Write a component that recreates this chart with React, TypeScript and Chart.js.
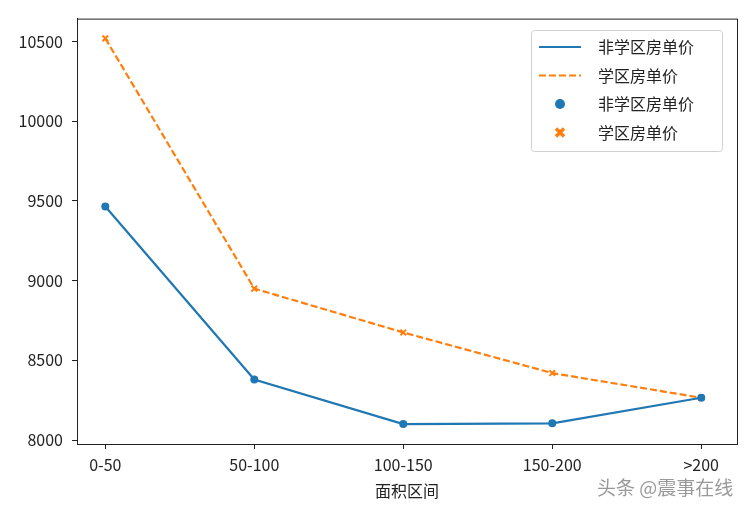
import React, { useEffect, useRef } from "react";
import { Chart, registerables } from "chart.js";

Chart.register(...registerables);

const categories = ["0-50", "50-100", "100-150", "150-200", ">200"];
const nonSchoolPrice = [9465, 8380, 8100, 8105, 8265];
const schoolPrice = [10520, 8950, 8675, 8420, 8265];
const yTicks = [8000, 8500, 9000, 9500, 10000, 10500];
const legendLabels = ["非学区房单价", "学区房单价", "非学区房单价", "学区房单价"];
const xTitle = "面积区间";
const watermark = "头条 @震事在线";

const BLUE = "#1f77b4";
const ORANGE = "#ff7f0e";
const FONT = "'Noto Sans CJK SC', 'DejaVu Sans', sans-serif";

export default function App() {
  const ref = useRef<HTMLCanvasElement | null>(null);
  useEffect(() => {
    if (!ref.current) return;
    const framePlugin = {
      id: "frame",
      afterDraw(chart: any) {
        const ctx = chart.ctx;
        const a = chart.chartArea;
        ctx.save();
        ctx.strokeStyle = "#222";
        ctx.lineWidth = 1;
        ctx.strokeRect(a.left + 0.5, a.top + 0.5, a.right - a.left, a.bottom - a.top);
        // x title
        ctx.fillStyle = "#222";
        ctx.font = "16px " + FONT;
        ctx.textAlign = "center";
        ctx.textBaseline = "middle";
        ctx.fillText(xTitle, (a.left + a.right) / 2, 491);
        // watermark
        ctx.fillStyle = "rgba(110,110,110,0.7)";
        ctx.font = "19px " + FONT;
        ctx.textAlign = "left";
        ctx.fillText(watermark, 597, 488);
        // legend
        const lx = 531, ly = 30, lw = 191, lh = 121;
        ctx.fillStyle = "rgba(255,255,255,0.85)";
        ctx.strokeStyle = "#d0d0d0";
        ctx.lineWidth = 1;
        ctx.beginPath();
        (ctx as any).roundRect(lx + 0.5, ly + 0.5, lw, lh, 3);
        ctx.fill();
        ctx.stroke();
        const rows = [47, 75.5, 104, 132.5];
        ctx.font = "16px " + FONT;
        ctx.textAlign = "left";
        ctx.textBaseline = "middle";
        rows.forEach((y, i) => {
          ctx.save();
          if (i === 0) {
            ctx.strokeStyle = BLUE;
            ctx.lineWidth = 2;
            ctx.beginPath();
            ctx.moveTo(539, y);
            ctx.lineTo(581, y);
            ctx.stroke();
          } else if (i === 1) {
            ctx.strokeStyle = ORANGE;
            ctx.lineWidth = 2;
            ctx.setLineDash([7, 3]);
            ctx.beginPath();
            ctx.moveTo(539, y);
            ctx.lineTo(581, y);
            ctx.stroke();
          } else if (i === 2) {
            ctx.fillStyle = BLUE;
            ctx.beginPath();
            ctx.arc(560, y, 5, 0, Math.PI * 2);
            ctx.fill();
          } else {
            ctx.strokeStyle = ORANGE;
            ctx.lineWidth = 3.5;
            ctx.beginPath();
            ctx.moveTo(556, y - 4);
            ctx.lineTo(564, y + 4);
            ctx.moveTo(564, y - 4);
            ctx.lineTo(556, y + 4);
            ctx.stroke();
          }
          ctx.restore();
          ctx.fillStyle = "#222";
          ctx.fillText(legendLabels[i], 598, y);
        });
        ctx.restore();
      },
    };
    const chart = new Chart(ref.current, {
      type: "line",
      data: {
        datasets: [
          {
            label: legendLabels[0],
            data: nonSchoolPrice.map((v, i) => ({ x: i, y: v })),
            borderColor: BLUE,
            backgroundColor: BLUE,
            borderWidth: 2.2,
            pointStyle: "circle",
            pointRadius: 4,
            pointBorderWidth: 0,
            tension: 0,
          },
          {
            label: legendLabels[1],
            data: schoolPrice.map((v, i) => ({ x: i, y: v })),
            borderColor: ORANGE,
            backgroundColor: ORANGE,
            borderWidth: 2.2,
            borderDash: [7, 3],
            pointStyle: "crossRot",
            pointRadius: 4,
            pointBorderWidth: 2,
            tension: 0,
          },
        ],
      },
      options: {
        responsive: false,
        animation: false,
        layout: { padding: { top: 18, right: 13, left: 0, bottom: 0 } },
        plugins: { legend: { display: false }, tooltip: { enabled: false } },
        scales: {
          x: {
            type: "linear",
            min: -0.19,
            max: 4.24,
            afterBuildTicks: (s: any) => {
              s.ticks = categories.map((_, i) => ({ value: i }));
            },
            afterFit: (s: any) => {
              s.height = 71;
            },
            ticks: {
              callback: (v: any) => categories[v as number] ?? "",
              color: "#222",
              font: { family: FONT, size: 16 },
              padding: 6,
              maxRotation: 0,
            },
            grid: { drawOnChartArea: false, drawTicks: true, tickLength: 5, color: "#222" },
            border: { display: true, color: "#222" },
          },
          y: {
            type: "linear",
            min: 7975,
            max: 10644,
            afterBuildTicks: (s: any) => {
              s.ticks = yTicks.map((v) => ({ value: v }));
            },
            afterFit: (s: any) => {
              s.width = 77;
            },
            ticks: {
              color: "#222",
              font: { family: FONT, size: 16 },
              padding: 9,
              callback: (v: any) => String(v),
            },
            grid: { drawOnChartArea: false, drawTicks: true, tickLength: 5, color: "#222" },
            border: { display: true, color: "#222" },
          },
        },
      },
      plugins: [framePlugin],
    } as any);
    return () => chart.destroy();
  }, []);
  return (
    <div style={{ position: "fixed", left: 0, top: 0, width: 750, height: 515, background: "#fff" }}>
      <canvas ref={ref} width={750} height={515} style={{ display: "block" }} />
    </div>
  );
}
